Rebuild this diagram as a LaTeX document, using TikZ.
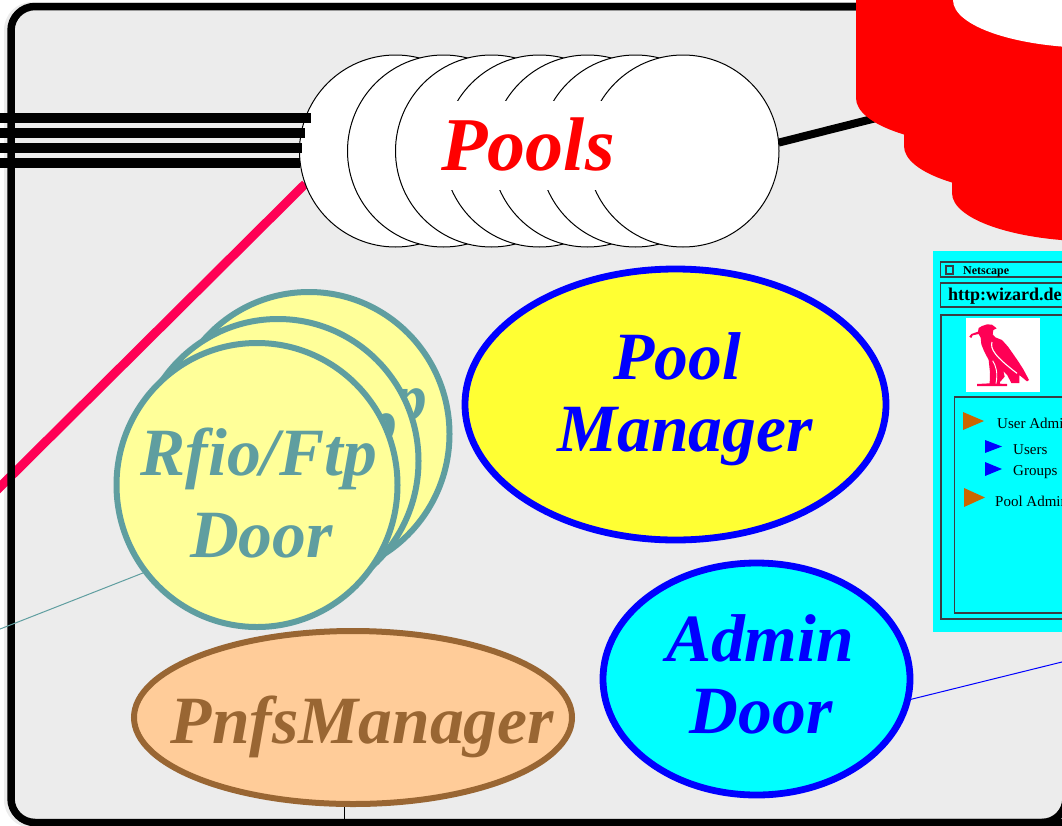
\documentclass[tikz,border=0pt]{standalone}
\usepackage{fontspec}
\setmainfont{Liberation Serif}
\usetikzlibrary{shapes.geometric}
\definecolor{panelgray}{HTML}{ECECEC}
\definecolor{wirepink}{HTML}{FF0055}
\definecolor{doorteal}{HTML}{5F9EA0}
\definecolor{dooryellow}{HTML}{FFFF99}
\definecolor{pmyellow}{HTML}{FFFF33}
\definecolor{pnfsfill}{HTML}{FFCC99}
\definecolor{pnfsline}{HTML}{996633}
\definecolor{arroworange}{HTML}{CC6600}
\definecolor{purecyan}{HTML}{00FFFF}
\definecolor{pureblue}{HTML}{0000FF}
\definecolor{purered}{HTML}{FF0000}
\pgfdeclarelayer{back}
\pgfsetlayers{back,main}
\tikzset{
  bigtext/.style={anchor=base,inner sep=0pt,font=\fontsize{67.6}{72}\selectfont\bfseries\itshape},
  pool/.style={ellipse,draw=black,fill=white,line width=1pt,minimum width=192pt,minimum height=192pt,inner sep=0pt,outer sep=0pt},
  door/.style={ellipse,draw=doorteal,fill=dooryellow,line width=6pt,minimum width=281pt,minimum height=284pt,inner sep=0pt,outer sep=0pt},
  cell/.style={ellipse,draw=pureblue,line width=6.8pt,inner sep=0pt,outer sep=0pt},
  bus/.style={black,line width=10pt},
  winbox/.style={draw=black!85!cyan,line width=1.7pt,fill=none,inner sep=0pt,outer sep=0pt},
  menu/.style={anchor=base west,inner sep=0pt,font=\fontsize{15}{15}\selectfont}
}
\begin{document}
\begin{tikzpicture}[x=1pt,y=-1pt]
\useasboundingbox (0,0) rectangle (1062,825);

% Pools
\foreach \i/\x in {1/395.5,2/443.5,3/491.5,4/539.5,5/587.5,6/635.5,7/683}
  \node[pool] (pool\i) at (\x,151) {};
\node[anchor=base,fill=white,inner sep=0pt,minimum width=205pt,text height=69.5pt,text depth=20pt,
      font=\fontsize{76}{76}\selectfont\bfseries\itshape,text=purered] (poolslabel) at (528,170) {Pools};

% Rfio/Ftp doors
\node[door] (door3) at (309,434) {};
\node[bigtext,text=doorteal] (door3a) at (309,420) {Rfio/Ftp};
\node[bigtext,text=doorteal] (door3b) at (311,502) {Door};
\node[door] (door2) at (278,461) {};
\node[bigtext,text=doorteal] (door2a) at (279,445) {Rfio/Ftp};
\node[bigtext,text=doorteal] (door2b) at (281,527) {Door};
\node[door] (door1) at (257,485) {};
\node[bigtext,text=doorteal] (door1a) at (259,475) {Rfio/Ftp};
\node[bigtext,text=doorteal] (door1b) at (261.5,557) {Door};

% Pool Manager
\node[cell,fill=pmyellow,minimum width=421pt,minimum height=271pt] (pm) at (675.5,404.5) {};
\node[bigtext,text=pureblue] (pma) at (677.5,379) {Pool};
\node[bigtext,text=pureblue] (pmb) at (685,451) {Manager};

% Admin Door
\node[cell,fill=purecyan,minimum width=307pt,minimum height=232pt] (admin) at (756.5,679) {};
\node[bigtext,text=pureblue] (admina) at (760,661) {Admin};
\node[bigtext,text=pureblue] (adminb) at (761,733) {Door};

% PnfsManager
\node[ellipse,draw=pnfsline,fill=pnfsfill,line width=6pt,minimum width=438pt,minimum height=173pt,inner sep=0pt,outer sep=0pt] (pnfs) at (353,717.5) {};
\node[bigtext,text=pnfsline] (pnfslabel) at (362.5,743) {PnfsManager};

% free ends of the connectors
\coordinate (pinkend) at (-5,492);
\coordinate (tealend) at (-5,631);
\coordinate (blueend) at (1070,660);
\coordinate (stubend) at (344,830);
\coordinate (storeend) at (900,112);
\foreach \n/\y/\x in {a/118/311,b/132.5/305,c/147.5/302,d/162.5/300} {
  \coordinate (bus\n l) at (-5,\y);
  \coordinate (bus\n r) at (\x,\y);
}

\begin{pgfonlayer}{back}
  \fill[panelgray] (4,2) [rounded corners=28pt] -- (1075,2) -- (1075,828) -- (4,828) -- cycle;
  \draw[wirepink,line width=9pt] (pinkend) -- (pool1.200);
  \draw[black,line width=7.5pt,rounded corners=24pt] (1066,6.5) -- (11,6.5) -- (11,822.5) -- (1066,822.5);
  \draw[black,line width=7.5pt,rounded corners=24pt] (800,6.5) -- (1066,6.5) -- (1066,822.5) -- (900,822.5);
  \draw[doorteal,line width=1pt] (tealend) -- (door1.218);
  \draw[pureblue,line width=1pt] (blueend) -- (admin.-8);
  \draw[black,line width=1pt] (stubend) -- (stubend |- pnfs.south);
  \draw[black,line width=8pt] (pool7.5) -- (storeend);
\end{pgfonlayer}

% connecting bus on top of the pools
\foreach \n in {d,c,b,a}
  \draw[bus] (bus\n l) -- (bus\n r);

% Red disk stack
\fill[purered] (856,-5) rectangle (1075,98);
\fill[purered] (1000,98) ellipse [x radius=144,y radius=49];
\fill[purered] (904,98) rectangle (1075,146);
\fill[purered] (1048,146) ellipse [x radius=144,y radius=49];
\fill[purered] (952,146) rectangle (1075,193);
\fill[purered] (1097,193) ellipse [x radius=145,y radius=48.5];
\fill[white] (1097,0) ellipse [x radius=144,y radius=48];

% Netscape window
\fill[purecyan] (933,251) rectangle (1075,632);
\draw[winbox] (940.5,262) rectangle (1075,277);
\draw[winbox] (945.8,265.8) rectangle (953.2,274.2);
\node[anchor=base west,inner sep=0pt,font=\fontsize{12}{12}\selectfont\bfseries] (nstitle) at (963,274) {Netscape};
\draw[winbox] (940.5,283) rectangle (1075,307);
\node[anchor=base west,inner sep=0pt,font=\fontsize{18}{18}\selectfont\bfseries] (nsurl) at (948,300) {http:wizard.de};
\draw[winbox] (941,315) rectangle (1075,619);
\draw[winbox] (954.5,397) rectangle (1075,613);

% Logo
\fill[white] (966,318) rectangle (1040,392);
\begin{scope}[shift={(962,316)},x=0.3333pt,y=-0.3333pt]
  \fill[wirepink] (22,62) -- (28,54) -- (48,47) -- (50,36) -- (60,30) -- (75,25) -- (90,26) -- (104,37)
    -- (94,42) -- (92,55) -- (100,64) -- (120,72) -- (138,92) -- (152,112) -- (168,135) -- (184,160)
    -- (201,192) -- (195,196) -- (172,177) -- (172,201) -- (148,201) -- (136,178) -- (124,165)
    -- (128,182) -- (114,198) -- (113,203) -- (135,204) -- (135,210) -- (45,210) -- (45,204) -- (83,202)
    -- (84,170) -- (80,132) -- (66,105) -- (58,85) -- (56,65) -- (50,54) -- (32,58) -- (28,66) -- cycle;
  \draw[white,line width=1.1pt] (90,78) .. controls (84,100) and (100,122) .. (165,172);
  \draw[white,line width=0.9pt] (92,134) .. controls (102,150) and (108,170) .. (102,203);
\end{scope}

% Menu
\fill[arroworange] (963,412) -- (984,421) -- (963,430) -- cycle;
\node[menu] (menu1) at (997,428) {User Admin};
\fill[pureblue] (985,440) -- (1002,446.5) -- (985,453) -- cycle;
\node[menu] (menu2) at (1013,454) {Users};
\fill[pureblue] (985,462) -- (1002,469) -- (985,476) -- cycle;
\node[menu] (menu3) at (1013,475) {Groups};
\fill[arroworange] (964,488) -- (985,497.5) -- (964,507) -- cycle;
\node[menu] (menu4) at (995,506) {Pool Admin};
\end{tikzpicture}
\end{document}
